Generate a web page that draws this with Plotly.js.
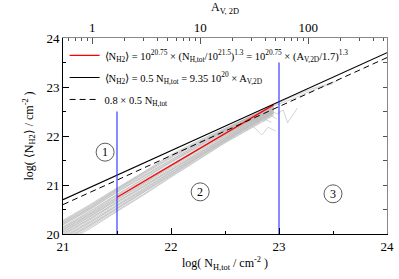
<!DOCTYPE html>
<html><head><meta charset="utf-8">
<script src="https://cdn.plot.ly/plotly-3.0.1.min.js"></script>
<style>html,body{margin:0;padding:0;background:#fff}#plot{width:399px;height:279px}</style>
</head><body><div id="plot"></div>
<script>
// ---- data ----
const greyX = [20.8, 21.0, 21.25, 21.5, 21.75, 22.0, 22.25, 22.5, 22.75, 22.95];
const greyY = [
  [20.02, 20.27, 20.60, 20.94, 21.27, 21.62, 21.90, 22.16, 22.41, 22.61],
  [19.99, 20.24, 20.56, 20.91, 21.24, 21.57, 21.86, 22.13, 22.39, 22.59],
  [19.97, 20.22, 20.53, 20.88, 21.20, 21.52, 21.83, 22.11, 22.38, 22.58],
  [19.93, 20.18, 20.50, 20.85, 21.17, 21.49, 21.80, 22.09, 22.36, 22.57],
  [19.91, 20.15, 20.47, 20.81, 21.13, 21.46, 21.77, 22.07, 22.35, 22.56],
  [19.87, 20.12, 20.43, 20.78, 21.10, 21.43, 21.74, 22.05, 22.33, 22.55],
  [19.85, 20.10, 20.41, 20.75, 21.08, 21.40, 21.72, 22.03, 22.32, 22.54],
  [19.81, 20.06, 20.38, 20.72, 21.05, 21.38, 21.70, 22.01, 22.31, 22.53],
  [19.79, 20.04, 20.35, 20.69, 21.02, 21.35, 21.68, 22.00, 22.30, 22.52],
  [19.76, 20.01, 20.32, 20.66, 20.99, 21.33, 21.66, 21.98, 22.28, 22.51],
  [19.72, 19.97, 20.29, 20.63, 20.96, 21.30, 21.63, 21.96, 22.27, 22.50],
  [19.70, 19.95, 20.26, 20.60, 20.93, 21.27, 21.61, 21.94, 22.25, 22.49],
  [19.66, 19.91, 20.23, 20.57, 20.90, 21.25, 21.59, 21.92, 22.24, 22.48],
  [19.64, 19.89, 20.20, 20.54, 20.88, 21.22, 21.57, 21.91, 22.22, 22.47],
  [19.60, 19.85, 20.17, 20.51, 20.85, 21.20, 21.55, 21.89, 22.21, 22.46],
  [19.58, 19.83, 20.14, 20.48, 20.82, 21.18, 21.53, 21.87, 22.19, 22.44],
  [19.55, 19.80, 20.11, 20.46, 20.80, 21.16, 21.51, 21.86, 22.17, 22.42],
  [19.96, 20.21, 20.54, 20.90, 21.23, 21.55, 21.85, 22.14, 22.42, 22.63],
  [19.88, 20.13, 20.45, 20.80, 21.14, 21.47, 21.79, 22.10, 22.40, 22.62],
  [19.78, 20.03, 20.36, 20.70, 21.04, 21.37, 21.71, 22.04, 22.34, 22.58],
  [19.94, 20.19, 20.51, 20.86, 21.19, 21.51, 21.82, 22.12, 22.40, 22.60],
  [19.83, 20.08, 20.40, 20.74, 21.07, 21.41, 21.73, 22.04, 22.33, 22.55],
  [19.74, 19.99, 20.31, 20.65, 20.98, 21.31, 21.64, 21.97, 22.29, 22.52],
  [19.68, 19.93, 20.24, 20.58, 20.92, 21.26, 21.60, 21.93, 22.26, 22.49],
  [20.00, 20.25, 20.58, 20.92, 21.25, 21.59, 21.88, 22.15, 22.41, 22.62],
  [19.62, 19.87, 20.18, 20.52, 20.86, 21.21, 21.56, 21.90, 22.23, 22.47]
];
// tails of some runs beyond the bundle
const tailX = [
  [22.95, 23.1, 23.3, 23.55],
  [22.95, 23.15, 23.35, 23.5],
  [22.9, 22.98, 23.04, 23.08, 23.17],
  [22.62, 22.7, 22.76, 22.84, 22.9, 22.97],
  [22.8, 22.86, 22.92, 22.98],
  [22.7, 22.78, 22.85, 22.93]
];
const tailY = [
  [22.63, 22.78, 22.96, 23.13],
  [22.61, 22.78, 22.97, 23.07],
  [22.55, 22.45, 22.53, 22.27, 22.57],
  [22.22, 22.12, 22.20, 22.02, 22.18, 22.10],
  [22.40, 22.30, 22.42, 22.35],
  [22.32, 22.22, 22.36, 22.28]
];
const redX = [21.5, 22.95];
const redY = [20.75, 22.635];
const solidX = [21, 24];
const solidY = [20.70, 23.70];
const dashX = [21, 24];
const dashY = [20.60, 23.60];
const boundX = [21.5, 23.0];
const boundTop = [22.5, 23.5];
const boundBottom = [20, 20];
const regionLabels = ['1', '2', '3'];
const regionX = [21.39, 22.27, 23.5];
const regionY = [21.67, 20.86, 20.82];
const NH_PER_AV = 1.87e21;
const NH2 = 'N<sub>H</sub><sub>2</sub>';
const legendNames = [
  '⟨' + NH2 + '⟩ = 10<sup>20.75</sup> × (N<sub>H,tot</sub>/10<sup>21.5</sup>)<sup>1.3</sup> = 10<sup>20.75</sup> × (A<sub>V,2D</sub>/1.7)<sup>1.3</sup>',
  '⟨' + NH2 + '⟩ = 0.5 N<sub>H,tot</sub> = 9.35 10<sup>20</sup> × A<sub>V,2D</sub>',
  '0.8 × 0.5 N<sub>H,tot</sub>'
];

// ---- traces ----
const traces = [];
greyY.forEach(ys => traces.push({x: greyX, y: ys, mode: 'lines', line: {color: '#b8b8b8', width: 0.7}, showlegend: false, hoverinfo: 'skip'}));
tailX.forEach((xs, i) => traces.push({x: xs, y: tailY[i], mode: 'lines', line: {color: '#c0c0c0', width: 0.7}, showlegend: false, hoverinfo: 'skip'}));
traces.push({x: redX, y: redY, mode: 'lines', line: {color: '#ff0000', width: 1.2}, name: legendNames[0], legendgroup: 'g1'});
traces.push({x: solidX, y: solidY, mode: 'lines', line: {color: '#000000', width: 1.1}, name: legendNames[1], legendgroup: 'g2'});
traces.push({x: dashX, y: dashY, mode: 'lines', line: {color: '#000000', width: 1.0, dash: '6px,4px'}, name: legendNames[2], legendgroup: 'g3'});
boundX.forEach((bx, i) => traces.push({x: [bx, bx], y: [boundBottom[i], boundTop[i]], mode: 'lines', line: {color: '#2a2aff', width: 1.1}, showlegend: false}));
traces.push({x: [], y: [], xaxis: 'x2', yaxis: 'y2', showlegend: false});

const shapes = regionX.map((rx, i) => ({
  type: 'circle', xref: 'x', yref: 'y', xsizemode: 'pixel', ysizemode: 'pixel',
  xanchor: rx, yanchor: regionY[i], x0: -9, x1: 9, y0: -9, y1: 9,
  line: {color: '#333', width: 0.8}
}));
const annotations = regionLabels.map((t, i) => ({
  x: regionX[i], y: regionY[i], xref: 'x', yref: 'y', text: t, showarrow: false,
  font: {family: 'Liberation Serif', size: 12, color: '#000'}
}));

const fontF = 'Liberation Serif';
const layout = {
  width: 399, height: 279,
  margin: {l: 63, r: 12, t: 38, b: 45},
  paper_bgcolor: '#fff', plot_bgcolor: '#fff',
  font: {family: fontF, size: 13, color: '#000'},
  showlegend: true,
  legend: {x: 0.005, y: 0.985, xanchor: 'left', yanchor: 'top', bgcolor: 'rgba(0,0,0,0)',
           font: {family: fontF, size: 10.5}, traceorder: 'grouped', tracegroupgap: 3, itemwidth: 30},
  xaxis: {range: [21, 24], dtick: 1, tick0: 21, ticks: 'inside', ticklen: 6, tickcolor: '#000',
          minor: {dtick: 0.5, ticks: 'inside', ticklen: 3, tickcolor: '#000'},
          showgrid: false, zeroline: false, showline: true, linecolor: '#000', linewidth: 1,
          title: {text: 'log( N<sub>H,tot</sub> / cm<sup>-2</sup> )', font: {family: fontF, size: 12}, standoff: 6}},
  yaxis: {range: [20, 24], dtick: 1, tick0: 20, ticks: 'inside', ticklen: 6, tickcolor: '#000',
          minor: {dtick: 0.5, ticks: 'inside', ticklen: 3, tickcolor: '#000'},
          showgrid: false, zeroline: false, showline: true, linecolor: '#000', linewidth: 1,
          title: {text: 'log( ⟨' + NH2 + '⟩ / cm<sup>-2</sup> )', font: {family: fontF, size: 12}, standoff: 10}},
  xaxis2: {type: 'log', overlaying: 'x', side: 'top', anchor: 'y',
           range: [21 - Math.log10(NH_PER_AV), 24 - Math.log10(NH_PER_AV)],
           dtick: 1, ticks: 'inside', ticklen: 6, tickcolor: '#555',
           minor: {dtick: 'D1', ticks: 'inside', ticklen: 3, tickcolor: '#555'},
           showgrid: false, zeroline: false, showline: true, linecolor: '#888', linewidth: 1,
           title: {text: 'A<sub>V, 2D</sub>', font: {family: fontF, size: 12}, standoff: 7}},
  yaxis2: {overlaying: 'y', side: 'right', anchor: 'x', range: [20, 24], dtick: 0.5,
           ticks: 'inside', ticklen: 4, tickcolor: '#555', showticklabels: false,
           showgrid: false, zeroline: false, showline: true, linecolor: '#888', linewidth: 1},
  shapes: shapes,
  annotations: annotations
};
Plotly.newPlot('plot', traces, layout, {displayModeBar: false, staticPlot: true});
</script></body></html>
